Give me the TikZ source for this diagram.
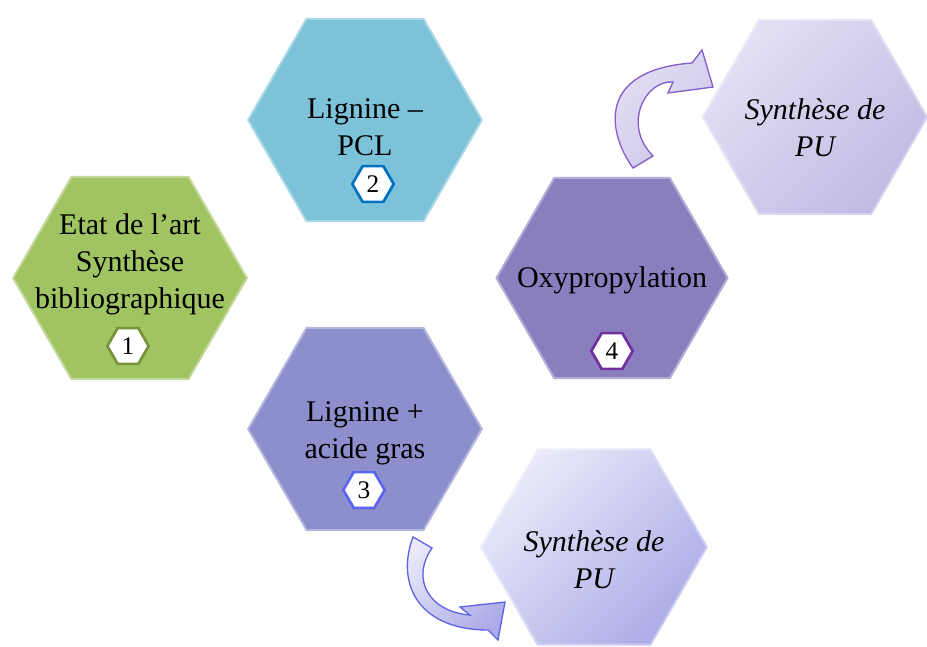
\documentclass[tikz,border=0pt]{standalone}
\usepackage{fontspec}
\setmainfont{Liberation Serif}
\usetikzlibrary{shapes.geometric}

\definecolor{hexgreen}{RGB}{160,196,98}
\definecolor{hexblue}{RGB}{124,194,216}
\definecolor{hexindigo}{RGB}{140,143,204}
\definecolor{hexpurple}{RGB}{139,126,190}
\definecolor{lavlight}{RGB}{228,224,244}
\definecolor{lavdark}{RGB}{194,186,228}
\definecolor{perilight}{RGB}{234,234,250}
\definecolor{peridark}{RGB}{172,172,232}
\definecolor{rimgreen}{RGB}{118,146,60}
\definecolor{rimblue}{RGB}{0,112,192}
\definecolor{rimindigo}{RGB}{90,100,240}
\definecolor{rimpurple}{RGB}{112,48,160}
\definecolor{arrpurple}{RGB}{130,95,205}
\definecolor{arrblue}{RGB}{95,100,230}

\begin{document}
\begin{tikzpicture}[x=0.75pt,y=-0.75pt,
  hexa/.style={regular polygon, regular polygon sides=6, minimum size=#1,
    inner sep=0pt, draw=white, draw opacity=0.35, line width=3pt},
  badge/.style={regular polygon, regular polygon sides=6, minimum size=31pt,
    inner sep=0pt, fill=white, draw=#1, line width=2pt,
    font=\fontsize{19}{19}\selectfont},
  lbl/.style={align=center, inner sep=0pt, font=\fontsize{22.5}{27.75}\selectfont}]
\useasboundingbox (0,0) rectangle (927,646);
% hexagons
\node[hexa=177pt, fill=hexgreen] (etat) at (130,278) {};
\node[hexa=177pt, fill=hexblue] (pcl) at (365,120) {};
\node[hexa=177pt, fill=hexindigo] (gras) at (365,429) {};
\node[hexa=175pt, fill=hexpurple] (oxy) at (612,278) {};
\node[hexa=170pt, left color=lavlight, right color=lavdark, shading angle=45] (puhaut) at (815,117) {};
\node[hexa=171pt, left color=perilight, right color=peridark, shading angle=45] (pubas) at (594,547) {};
% texts
\node[lbl] (etatT) at (130,264) {Etat de l’art\\Synthèse\\bibliographique};
\node[lbl] (pclT) at (365,127) {Lignine –\\PCL};
\node[lbl] (grasT) at (365,433) {Lignine +\\acide gras};
\node[lbl] (oxyT) at (612,280) {Oxypropylation};
\node[lbl, font=\fontsize{22.5}{27.75}\selectfont\itshape] (puhautT) at (815,128) {Synthèse de\\PU};
\node[lbl, font=\fontsize{22.5}{27.75}\selectfont\itshape] (pubasT) at (594,560) {Synthèse de\\PU};
% numbers
\node[badge=rimgreen] (n1) at (128,346) {1};
\node[badge=rimblue] (n2) at (373,184) {2};
\node[badge=rimindigo] (n3) at (364,490) {3};
\node[badge=rimpurple] (n4) at (612,351) {4};
% bent arrows
\draw[arrpurple, line width=1pt, left color=lavlight, right color=lavdark!80, shading angle=45]
  (633,168) .. controls (607,132) and (597,70) .. (692,63) -- (702,50) -- (713,87)
  -- (668,93) -- (673,82) .. controls (645,80) and (622,125) .. (653,156) -- cycle;
\draw[arrblue, line width=1pt, left color=perilight, right color=peridark, shading angle=45]
  (413,537) .. controls (395,585) and (420,630) .. (488,630) -- (498,640) -- (505,602)
  -- (460,607) -- (470,615) .. controls (430,612) and (410,580) .. (432,548) -- cycle;
\end{tikzpicture}
\end{document}
